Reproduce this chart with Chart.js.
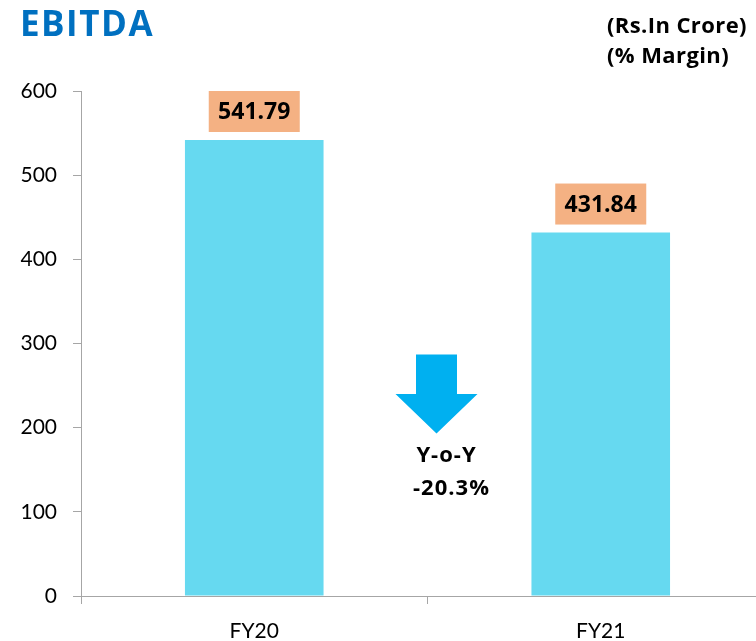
<!DOCTYPE html>
<html>
<head>
<meta charset="utf-8">
<script src="https://cdn.jsdelivr.net/npm/chart.js@4"></script>
<style>
  html, body { margin: 0; padding: 0; background: #fff; overflow: hidden; }
  #wrap { position: relative; width: 756px; height: 641px; overflow: hidden; }
  #c { position: absolute; left: 0; top: 0; }
  #title { position: absolute; left: 20px; top: -1px; font: bold 35px "Open Sans", sans-serif; letter-spacing: 1.5px; color: #0070C0; }
  #unit { position: absolute; left: 607px; top: 9px; font: bold 22px "Open Sans", sans-serif; letter-spacing: 0.4px; color: #000; line-height: 30px; white-space: nowrap; }
</style>
</head>
<body>
<div id="wrap">
  <canvas id="c" width="774" height="641"></canvas>
  <div id="title">EBITDA</div>
  <div id="unit">(Rs.In Crore)<br>(% Margin)</div>
</div>
<script>
var years = ['FY20', 'FY21'];
var ebitda = [541.79, 431.84];
var yTicks = [0, 100, 200, 300, 400, 500, 600];

var barColor = '#66D9F0';
var boxColor = '#F4B183';
var arrowColor = '#00B0F0';

// value boxes above bars
var boxLabels = {
  id: 'boxLabels',
  afterDatasetsDraw: function(chart) {
    let ctx = chart.ctx;
    let meta = chart.getDatasetMeta(0);
    ctx.save();
    ctx.font = 'bold 23px "Open Sans", sans-serif';
    ctx.textAlign = 'center';
    ctx.textBaseline = 'middle';
    meta.data.forEach(function(bar, i) {
      let w = 91, h = 41;
      let bottom = bar.y - 8;
      ctx.fillStyle = boxColor;
      ctx.fillRect(bar.x - w / 2, bottom - h, w, h);
      ctx.fillStyle = '#000';
      ctx.fillText(ebitda[i].toFixed(2), bar.x, bottom - h / 2 + 1);
    });
    ctx.restore();
  }
};

// down arrow with y-o-y change
var yoyArrow = {
  id: 'yoyArrow',
  afterDraw: function(chart) {
    let ctx = chart.ctx;
    let xs = chart.scales.x, ys = chart.scales.y;
    let cx = (xs.getPixelForValue(0) + xs.getPixelForValue(1)) / 2 + 9;
    let top = ys.getPixelForValue(287);
    let neck = ys.getPixelForValue(240);
    let tip = ys.getPixelForValue(193);
    ctx.save();
    ctx.fillStyle = arrowColor;
    ctx.beginPath();
    ctx.moveTo(cx - 20.5, top);
    ctx.lineTo(cx + 20.5, top);
    ctx.lineTo(cx + 20.5, neck);
    ctx.lineTo(cx + 41, neck);
    ctx.lineTo(cx, tip);
    ctx.lineTo(cx - 41, neck);
    ctx.lineTo(cx - 20.5, neck);
    ctx.closePath();
    ctx.fill();

    let chg = (ebitda[1] - ebitda[0]) / ebitda[0] * 100;
    ctx.fillStyle = '#000';
    ctx.font = 'bold 22px "Open Sans", sans-serif';
    ctx.letterSpacing = '1px';
    ctx.textAlign = 'center';
    ctx.textBaseline = 'middle';
    ctx.fillText('Y-o-Y', cx + 10, ys.getPixelForValue(167));
    ctx.fillText(chg.toFixed(1) + '%', cx + 15, ys.getPixelForValue(128));
    ctx.restore();
  }
};

new Chart(document.getElementById('c'), {
  type: 'bar',
  data: {
    labels: years,
    datasets: [{
      data: ebitda,
      backgroundColor: barColor,
      borderWidth: 0,
      barPercentage: 0.4,
      categoryPercentage: 1
    }]
  },
  options: {
    responsive: false,
    animation: false,
    layout: { padding: { top: 91, right: 0, left: 0, bottom: 0 } },
    plugins: {
      legend: { display: false },
      tooltip: { enabled: false }
    },
    scales: {
      x: {
        afterFit: function(s) { s.height = 45; },
        grid: {
          offset: true,
          drawOnChartArea: false,
          drawTicks: true,
          tickLength: 8,
          color: '#a6a6a6'
        },
        border: { color: '#a6a6a6' },
        ticks: {
          color: '#000',
          padding: 15,
          font: { family: 'Lato', size: 21 }
        }
      },
      y: {
        min: 0,
        max: 600,
        afterFit: function(s) { s.width = 81; },
        afterBuildTicks: function(s) { s.ticks = yTicks.map(function(v) { return { value: v }; }); },
        grid: {
          drawOnChartArea: false,
          drawTicks: true,
          tickLength: 8,
          color: '#a6a6a6'
        },
        border: { color: '#a6a6a6' },
        ticks: {
          color: '#000',
          padding: 16,
          font: { family: 'Lato', size: 21 }
        }
      }
    }
  },
  plugins: [boxLabels, yoyArrow]
});
</script>
</body>
</html>
